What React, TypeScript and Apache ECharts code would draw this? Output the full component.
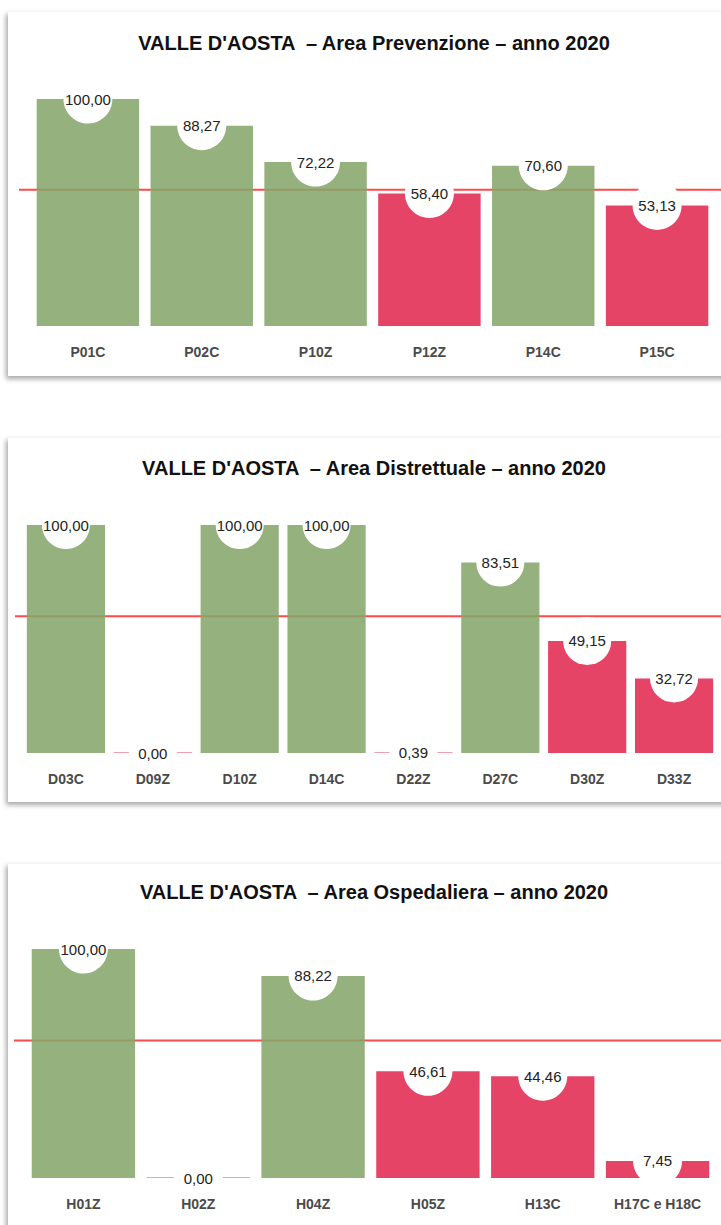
import React, { useEffect, useRef } from "react";
import * as echarts from "echarts";

const THRESHOLD = 60;

const prevTitle = "VALLE D'AOSTA  – Area Prevenzione – anno 2020";
const prevCategories = ["P01C", "P02C", "P10Z", "P12Z", "P14C", "P15C"];
const prevValues = [100.0, 88.27, 72.22, 58.4, 70.6, 53.13];

const distTitle = "VALLE D'AOSTA  – Area Distrettuale – anno 2020";
const distCategories = ["D03C", "D09Z", "D10Z", "D14C", "D22Z", "D27C", "D30Z", "D33Z"];
const distValues = [100.0, 0.0, 100.0, 100.0, 0.39, 83.51, 49.15, 32.72];

const ospTitle = "VALLE D'AOSTA  – Area Ospedaliera – anno 2020";
const ospCategories = ["H01Z", "H02Z", "H04Z", "H05Z", "H13C", "H17C e H18C"];
const ospValues = [100.0, 0.0, 88.22, 46.61, 44.46, 7.45];

const CARD_W = 732;
const CARD_H = 364;
const GREEN = "#86a66b";
const RED = "#e32a52";
const LINE_RED = "#ff4a4a";
const FONT = "'Liberation Sans', Arial, Helvetica, sans-serif";

type Layout = {
  top: number;
  titleTop: number;
  gridLeft: number;
  gridRight: number;
  gridTop: number;
  gridHeight: number;
  lineStart: number;
  circle: number;
};

const fmt = (v: number) => v.toFixed(2).replace(".", ",");

function Panel(props: { title: string; categories: string[]; values: number[]; layout: Layout }) {
  const ref = useRef<HTMLDivElement | null>(null);
  const { title, categories, values, layout } = props;
  useEffect(() => {
    if (!ref.current) return;
    const chart = echarts.init(ref.current, undefined, { renderer: "svg" });
    chart.setOption({
      animation: false,
      title: {
        text: title,
        left: "center",
        top: layout.titleTop,
        padding: 0,
        textStyle: { fontFamily: FONT, fontSize: 20, fontWeight: "bold", color: "#111" },
      },
      grid: {
        left: layout.gridLeft,
        right: layout.gridRight,
        top: layout.gridTop,
        height: layout.gridHeight,
        containLabel: false,
      },
      xAxis: {
        type: "category",
        data: categories,
        z: 6,
        axisLine: { show: false },
        axisTick: { show: false },
        splitLine: { show: false },
        axisLabel: {
          fontFamily: FONT,
          fontSize: 14,
          fontWeight: "bold",
          color: "#4a4a4a",
          margin: 19,
          interval: 0,
        },
      },
      yAxis: { type: "value", min: 0, max: 100, show: false },
      series: [
        {
          type: "custom",
          z: 1,
          silent: true,
          clip: false,
          data: [[0, THRESHOLD]],
          renderItem: (_params: any, api: any) => {
            const y = api.coord([0, api.value(1)])[1];
            return {
              type: "line",
              shape: { x1: layout.lineStart, y1: y, x2: CARD_W + 20, y2: y },
              style: { stroke: LINE_RED, lineWidth: 2 },
            };
          },
        },
        {
          type: "bar",
          z: 2,
          silent: true,
          barCategoryGap: "10%",
          barMinHeight: 1,
          data: values.map((v) => ({
            value: v,
            itemStyle: {
              color: v >= THRESHOLD ? GREEN : RED,
              opacity: v < 1 ? 0.45 : 0.88,
            },
          })),
        },
        {
          type: "scatter",
          z: 3,
          silent: true,
          clip: false,
          symbol: "circle",
          symbolSize: layout.circle,
          itemStyle: { color: "#ffffff", opacity: 1 },
          label: {
            show: true,
            position: "inside",
            formatter: (p: any) => fmt(p.value),
            fontFamily: FONT,
            fontSize: 15,
            color: "#222",
          },
          data: values,
        },
      ],
    });
    return () => chart.dispose();
  }, [title, categories, values, layout]);
  return (
    <div
      style={{
        position: "absolute",
        left: 8,
        top: layout.top,
        width: CARD_W,
        height: CARD_H,
        background: "#fff",
        boxShadow: "-2px 3px 5px rgba(0,0,0,0.35)",
        borderTop: "1px solid #f6f6f6",
      }}
    >
      <div ref={ref} style={{ width: CARD_W, height: CARD_H }} />
    </div>
  );
}

const layout1: Layout = { top: 11, titleTop: 21, gridLeft: 23, gridRight: 26, gridTop: 87, gridHeight: 227, lineStart: 11, circle: 49 };
const layout2: Layout = { top: 437, titleTop: 20, gridLeft: 14.5, gridRight: 22.5, gridTop: 87, gridHeight: 228, lineStart: 7, circle: 48 };
const layout3: Layout = { top: 863, titleTop: 18, gridLeft: 18, gridRight: 25, gridTop: 85, gridHeight: 229, lineStart: 6, circle: 49 };

export default function App() {
  return (
    <div style={{ position: "fixed", left: 0, top: 0, width: 721, height: 1225, overflow: "hidden", background: "#fff" }}>
      <Panel title={prevTitle} categories={prevCategories} values={prevValues} layout={layout1} />
      <Panel title={distTitle} categories={distCategories} values={distValues} layout={layout2} />
      <Panel title={ospTitle} categories={ospCategories} values={ospValues} layout={layout3} />
    </div>
  );
}
